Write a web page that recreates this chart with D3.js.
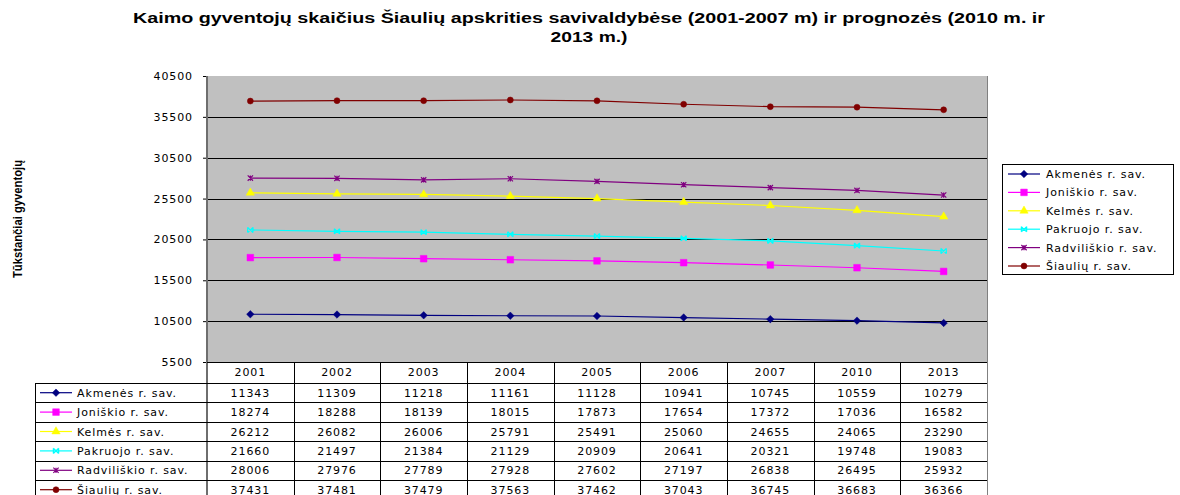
<!DOCTYPE html>
<html>
<head>
<meta charset="utf-8">
<script src="https://cdn.jsdelivr.net/npm/d3@7"></script>
<style>
  body { margin: 0; background: #fff; }
  svg { display: block; }
  .tick text, .cell, .lbl { font-family: "DejaVu Sans", sans-serif; font-size: 11px; letter-spacing: 0.9px; fill: #000; }
</style>
</head>
<body>
<div id="chart"></div>
<script>
// data
var years = ['2001','2002','2003','2004','2005','2006','2007','2010','2013']
var seriesNames = ['Akmenės r. sav.','Joniškio r. sav.','Kelmės r. sav.','Pakruojo r. sav.','Radviliškio r. sav.','Šiaulių r. sav.']
var akmenes = [11343,11309,11218,11161,11128,10941,10745,10559,10279]
var joniskio = [18274,18288,18139,18015,17873,17654,17372,17036,16582]
var kelmes = [26212,26082,26006,25791,25491,25060,24655,24065,23290]
var pakruojo = [21660,21497,21384,21129,20909,20641,20321,19748,19083]
var radviliskio = [28006,27976,27789,27928,27602,27197,26838,26495,25932]
var siauliu = [37431,37481,37479,37563,37462,37043,36745,36683,36366]
var yTicks = [5500,10500,15500,20500,25500,30500,35500,40500]

var allValues = [akmenes, joniskio, kelmes, pakruojo, radviliskio, siauliu]
var colors = ['#000080','#FF00FF','#FFFF00','#00FFFF','#800080','#800000']

var width = 1180, height = 495
var plot = {left: 207, right: 987, top: 76, bottom: 362}

var svg = d3.select('#chart').append('svg')
	.attr('width', width)
	.attr('height', height)

// custom markers
var symRhombus = {draw: function(ctx, size){
	var r = Math.sqrt(size) / 2
	ctx.moveTo(0,-r); ctx.lineTo(r,0); ctx.lineTo(0,r); ctx.lineTo(-r,0); ctx.closePath()
}}
var symX = {draw: function(ctx, size){
	var r = Math.sqrt(size) / 2
	ctx.moveTo(-r,-r); ctx.lineTo(r,r)
	ctx.moveTo(-r,r); ctx.lineTo(r,-r)
	ctx.moveTo(-r,-r); ctx.lineTo(-r,r)
	ctx.moveTo(r,-r); ctx.lineTo(r,r)
}}
var symStar = {draw: function(ctx, size){
	var r = Math.sqrt(size) / 2
	ctx.moveTo(-r,-r); ctx.lineTo(r,r)
	ctx.moveTo(-r,r); ctx.lineTo(r,-r)
	ctx.moveTo(0,-r); ctx.lineTo(0,r)
}}
var markers = [
	{type: symRhombus, size: 56, fill: true},
	{type: d3.symbolSquare, size: 44, fill: true},
	{type: d3.symbolTriangle, size: 30, fill: true},
	{type: symX, size: 28, fill: false},
	{type: symStar, size: 28, fill: false},
	{type: d3.symbolCircle, size: 28, fill: true}
]

function drawMarker(g, i, x, y){
	var m = markers[i]
	g.append('path')
		.attr('d', d3.symbol().type(m.type).size(m.size)())
		.attr('transform', 'translate(' + x + ',' + y + ')')
		.attr('fill', m.fill ? colors[i] : 'none')
		.attr('stroke', colors[i])
		.attr('stroke-width', m.fill ? 0.5 : 1.2)
}

// title
var title = svg.append('text')
	.attr('x', 589)
	.attr('text-anchor', 'middle')
	.attr('font-family', 'Liberation Sans, Arial, sans-serif')
	.attr('font-weight', 'bold')
	.attr('font-size', '14px')
title.append('tspan').attr('x', 589).attr('y', 23)
	.attr('textLength', 912).attr('lengthAdjust', 'spacingAndGlyphs')
	.text('Kaimo gyventojų skaičius Šiaulių apskrities savivaldybėse (2001-2007 m) ir prognozės (2010 m. ir')
title.append('tspan').attr('x', 589).attr('y', 42)
	.attr('textLength', 77).attr('lengthAdjust', 'spacingAndGlyphs')
	.text('2013 m.)')

// y axis title
svg.append('text')
	.attr('transform', 'translate(22,219) rotate(-90)')
	.attr('text-anchor', 'middle')
	.attr('font-family', 'Liberation Sans, Arial, sans-serif')
	.attr('font-weight', 'bold')
	.attr('font-size', '12px')
	.attr('textLength', 118).attr('lengthAdjust', 'spacingAndGlyphs')
	.text('Tūkstančiai gyventojų')

// scales
var xScale = d3.scaleBand()
	.domain(years)
	.range([plot.left, plot.right])

var yScale = d3.scaleLinear()
	.domain([5500, 40500])
	.range([plot.bottom, plot.top])

// plot area
svg.append('rect')
	.attr('x', plot.left).attr('y', plot.top)
	.attr('width', plot.right - plot.left).attr('height', plot.bottom - plot.top)
	.attr('fill', '#C0C0C0')

// gridlines
svg.selectAll('.grid')
	.data(yTicks.filter(function(d){ return d > 5500 && d < 40500 }))
	.enter().append('line')
	.attr('class', 'grid')
	.attr('x1', plot.left).attr('x2', plot.right)
	.attr('y1', function(d){ return Math.round(yScale(d)) + 0.5 })
	.attr('y2', function(d){ return Math.round(yScale(d)) + 0.5 })
	.attr('stroke', '#000')
	.attr('stroke-width', 1)

// y axis
var yAxis = svg.append('g')
	.attr('transform', 'translate(' + plot.left + ',0)')
	.call(d3.axisLeft(yScale).tickValues(yTicks).tickSize(4).tickPadding(10).tickFormat(d3.format('d')))
yAxis.select('.domain').remove()
yAxis.selectAll('.tick line').attr('stroke', '#000')
svg.append('line')
	.attr('x1', plot.left).attr('x2', plot.left)
	.attr('y1', plot.top).attr('y2', height)
	.attr('stroke', '#6e6e6e').attr('stroke-width', 2)
svg.append('line')
	.attr('x1', plot.right + 0.5).attr('x2', plot.right + 0.5)
	.attr('y1', plot.top).attr('y2', height)
	.attr('stroke', '#808080').attr('stroke-width', 1)

// lines and markers
var lineGen = d3.line()
	.x(function(d, j){ return xScale(years[j]) + xScale.bandwidth() / 2 })
	.y(function(d){ return yScale(d) })

allValues.forEach(function(vals, i){
	svg.append('path')
		.attr('d', lineGen(vals))
		.attr('fill', 'none')
		.attr('stroke', colors[i])
		.attr('stroke-width', 1.2)
	var g = svg.append('g')
	vals.forEach(function(v, j){
		drawMarker(g, i, xScale(years[j]) + xScale.bandwidth() / 2, yScale(v))
	})
})

// data table
var tableLeft = 35, headerTop = plot.bottom, rowTop = 383, rowH = 19.4

svg.append('line')
	.attr('x1', plot.left).attr('x2', plot.right)
	.attr('y1', headerTop + 0.5).attr('y2', headerTop + 0.5)
	.attr('stroke', '#000')

years.forEach(function(y, j){
	svg.append('text')
		.attr('class', 'cell')
		.attr('x', xScale(y) + xScale.bandwidth() / 2)
		.attr('y', headerTop + 14)
		.attr('text-anchor', 'middle')
		.text(y)
})

d3.range(seriesNames.length + 1).forEach(function(r){
	var yy = Math.round(rowTop + r * rowH) + 0.5
	svg.append('line')
		.attr('x1', tableLeft).attr('x2', plot.right)
		.attr('y1', yy).attr('y2', yy)
		.attr('stroke', '#000')
})

svg.append('line')
	.attr('x1', tableLeft + 0.5).attr('x2', tableLeft + 0.5)
	.attr('y1', rowTop).attr('y2', height)
	.attr('stroke', '#000')

years.forEach(function(y, j){
	if (j == 0) return
	var xx = Math.round(xScale(y)) + 0.5
	svg.append('line')
		.attr('x1', xx).attr('x2', xx)
		.attr('y1', headerTop).attr('y2', height)
		.attr('stroke', '#000')
})

seriesNames.forEach(function(name, i){
	var cy = rowTop + i * rowH + rowH / 2
	var g = svg.append('g')
	g.append('line')
		.attr('x1', 40).attr('x2', 72)
		.attr('y1', cy).attr('y2', cy)
		.attr('stroke', colors[i]).attr('stroke-width', 1.2)
	drawMarker(g, i, 56, cy)
	svg.append('text')
		.attr('class', 'lbl')
		.attr('x', 77).attr('y', cy + 4)
		.text(name)
	allValues[i].forEach(function(v, j){
		svg.append('text')
			.attr('class', 'cell')
			.attr('x', xScale(years[j]) + xScale.bandwidth() / 2)
			.attr('y', cy + 4)
			.attr('text-anchor', 'middle')
			.text(v)
	})
})

// legend
var legend = svg.append('g')
legend.append('rect')
	.attr('x', 1002.5).attr('y', 164.5)
	.attr('width', 171).attr('height', 110)
	.attr('fill', '#fff').attr('stroke', '#000')

seriesNames.forEach(function(name, i){
	var cy = 174 + i * 18.4
	legend.append('line')
		.attr('x1', 1008).attr('x2', 1040)
		.attr('y1', cy).attr('y2', cy)
		.attr('stroke', colors[i]).attr('stroke-width', 1.2)
	drawMarker(legend, i, 1024, cy)
	legend.append('text')
		.attr('class', 'lbl')
		.attr('x', 1046).attr('y', cy + 4)
		.text(name)
})
</script>
</body>
</html>
